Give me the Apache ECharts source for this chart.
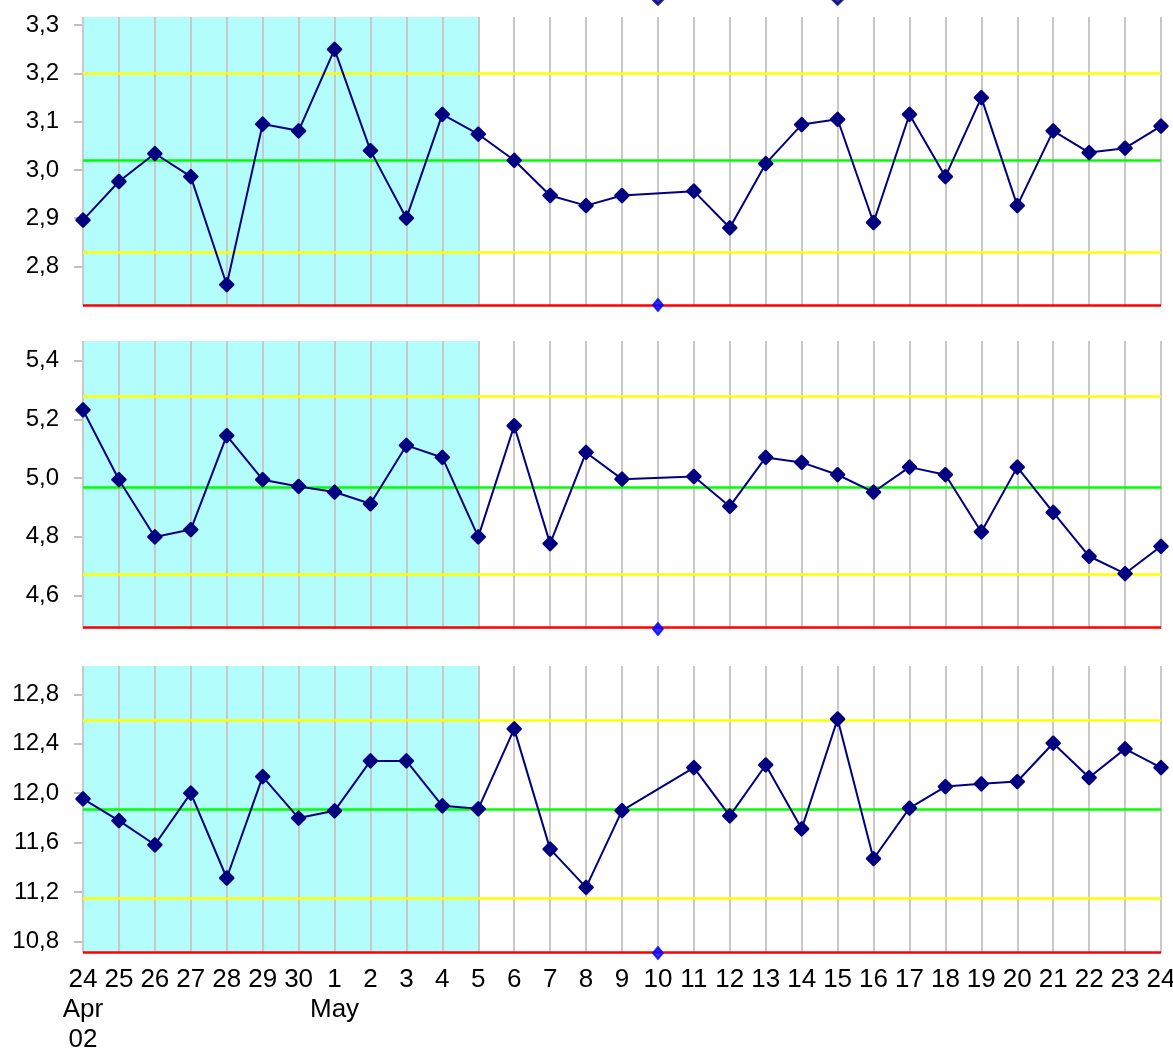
<!DOCTYPE html>
<html><head><meta charset="utf-8">
<script src="https://cdn.jsdelivr.net/npm/echarts@6/dist/echarts.min.js"></script>
<style>html,body{margin:0;padding:0;background:#fff}#c{width:1173px;height:1052px}</style>
</head><body><div id="c"></div>
<script>
const dates = ['2002-04-24','2002-04-25','2002-04-26','2002-04-27','2002-04-28','2002-04-29','2002-04-30',
  '2002-05-01','2002-05-02','2002-05-03','2002-05-04','2002-05-05','2002-05-06','2002-05-07','2002-05-08',
  '2002-05-09','2002-05-10','2002-05-11','2002-05-12','2002-05-13','2002-05-14','2002-05-15','2002-05-16',
  '2002-05-17','2002-05-18','2002-05-19','2002-05-20','2002-05-21','2002-05-22','2002-05-23','2002-05-24'];
const xLabels = ['24\nApr\n02','25','26','27','28','29','30','1\nMay','2','3','4','5','6','7','8','9','10',
  '11','12','13','14','15','16','17','18','19','20','21','22','23','24'];

const panel1 = [2.896,2.976,3.034,2.986,2.762,3.095,3.081,3.250,3.040,2.900,3.115,3.074,3.020,2.947,2.926,
  2.947,null,2.956,2.880,3.013,3.094,3.105,2.891,3.115,2.986,3.150,2.926,3.081,3.036,3.045,3.091];
const panel2 = [5.232,4.994,4.799,4.824,5.144,4.994,4.971,4.952,4.912,5.111,5.070,4.799,5.178,4.776,5.087,
  4.996,null,5.005,4.903,5.070,5.053,5.011,4.952,5.037,5.011,4.816,5.037,4.883,4.733,4.674,4.767];
const panel3 = [11.954,11.778,11.582,12.000,11.313,12.134,11.798,11.857,12.261,12.261,11.897,11.873,12.520,
  11.547,11.237,11.859,null,12.207,11.816,12.228,11.711,12.600,11.469,11.878,12.053,12.075,12.094,12.404,
  12.126,12.358,12.207];

// [lower control, lower warning, center, upper warning, upper control]
const limits1 = [2.720, 2.834, 3.018, 3.202, 3.317];
const limits2 = [4.485, 4.673, 4.974, 5.277, 5.467];
const limits3 = [10.706, 11.151, 11.870, 12.587, 13.029];

const ticks1 = [2.8, 2.9, 3.0, 3.1, 3.2, 3.3];
const ticks2 = [4.6, 4.8, 5.0, 5.2, 5.4];
const ticks3 = [10.8, 11.2, 11.6, 12.0, 12.4, 12.8];

const shadeRange = ['2002-04-24', '2002-05-05'];
const flagDate = '2002-05-10';
const topMarkDates = ['2002-05-10', '2002-05-15'];
const topMarkValue = 3.356;

const panels = [panel1, panel2, panel3];
const limits = [limits1, limits2, limits3];
const ticks = [ticks1, ticks2, ticks3];

const NAVY = '#000080';
const FONT = "'Liberation Sans', Arial, sans-serif";
const gridPos = [{top: 17, height: 288}, {top: 341, height: 288}, {top: 666, height: 287}];

const grid = [], xAxis = [], yAxis = [], series = [];
panels.forEach((vals, i) => {
  const L = limits[i];
  grid.push({left: 83, right: 12, top: gridPos[i].top, height: gridPos[i].height,
    containLabel: false, outerBoundsMode: 'none'});
  xAxis.push({
    type: 'category', gridIndex: i, data: dates, boundaryGap: false, z: 1.5,
    axisLine: {show: false}, axisTick: {show: false},
    splitLine: {show: true, lineStyle: {color: '#c8c8c8', width: 2}},
    axisLabel: {
      show: i === 2, interval: 0, margin: 12, color: '#000', hideOverlap: false,
      fontFamily: FONT, fontSize: 26, lineHeight: 30,
      formatter: (v, idx) => xLabels[idx]
    }
  });
  yAxis.push({
    type: 'value', gridIndex: i, min: L[0], max: L[4],
    axisLine: {show: false},
    splitLine: {show: false},
    axisTick: {show: true, length: 9, customValues: ticks[i], lineStyle: {color: '#c0c0c0', width: 2}},
    axisLabel: {
      customValues: ticks[i], margin: 24, color: '#000', fontFamily: FONT, fontSize: 24,
      formatter: v => v.toFixed(1).replace('.', ',')
    }
  });
  series.push({
    type: 'line', xAxisIndex: i, yAxisIndex: i, data: [], z: 1, silent: true,
    markArea: {silent: true, itemStyle: {color: '#b4fdfd'},
      data: [[{xAxis: shadeRange[0]}, {xAxis: shadeRange[1]}]]}
  });
  series.push({
    type: 'line', xAxisIndex: i, yAxisIndex: i, data: vals, connectNulls: true,
    symbol: 'diamond', symbolSize: [13, 13], showAllSymbol: true, z: 4,
    itemStyle: {color: NAVY, borderColor: NAVY, borderWidth: 2.5, borderJoin: 'round'},
    lineStyle: {color: NAVY, width: 2},
    markLine: {
      silent: true, symbol: 'none', label: {show: false}, z: 3,
      data: [
        {yAxis: L[0], lineStyle: {color: '#ff0000', width: 2.5, type: 'solid'}},
        {yAxis: L[4], lineStyle: {color: '#ff0000', width: 2.5, type: 'solid'}},
        {yAxis: L[1], lineStyle: {color: '#ffff00', width: 2.5, type: 'solid'}},
        {yAxis: L[3], lineStyle: {color: '#ffff00', width: 2.5, type: 'solid'}},
        {yAxis: L[2], lineStyle: {color: '#00ff00', width: 2.5, type: 'solid'}}
      ]
    }
  });
  series.push({
    type: 'scatter', xAxisIndex: i, yAxisIndex: i, z: 10, clip: false,
    symbol: 'diamond', symbolSize: [10, 12],
    itemStyle: {color: '#0000ff', borderColor: '#0000ff', borderWidth: 2, borderJoin: 'round'},
    data: [[flagDate, L[0]]]
  });
});
series.push({
  type: 'scatter', xAxisIndex: 0, yAxisIndex: 0, z: 10, clip: false,
  symbol: 'diamond', symbolSize: [13, 13],
  itemStyle: {color: NAVY, borderColor: NAVY, borderWidth: 2.5, borderJoin: 'round'},
  data: topMarkDates.map(d => [d, topMarkValue])
});

const chart = echarts.init(document.getElementById('c'), null, {renderer: 'canvas'});
chart.setOption({
  backgroundColor: '#fff', animation: false,
  grid, xAxis, yAxis, series
});
</script>
</body></html>
